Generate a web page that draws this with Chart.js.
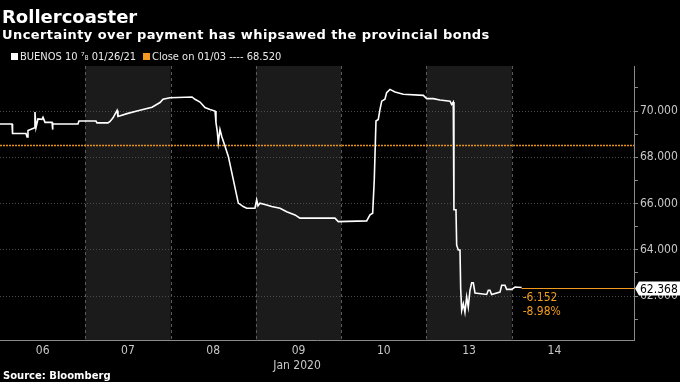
<!DOCTYPE html>
<html lang="en">
<head>
<meta charset="UTF-8">
<title>Rollercoaster</title>
<style>
    html, body { margin: 0; padding: 0; background: #000; }
    .wrap { position: relative; width: 680px; height: 382px; overflow: hidden; background: #000; }
    #chart { position: absolute; left: 0; top: 0; }
    .txt { position: absolute; white-space: nowrap; line-height: 1; }
    .title { left: 2px; top: 6px; font: bold 18px "DejaVu Sans"; color: #fff; }
    .subtitle { left: 2px; top: 27px; font: bold 13px "DejaVu Sans"; letter-spacing: 0.42px; color: #fff; }
    .leg { top: 51px; font-family: "DejaVu Sans Condensed", "DejaVu Sans"; font-stretch: condensed; font-size: 11px; color: #eaeaea; }
    .sq { position: absolute; top: 53px; width: 7px; height: 7px; }
    .axisname { left: 297px; top: 359px; transform: translateX(-50%); font-family: "DejaVu Sans Condensed", "DejaVu Sans"; font-stretch: condensed; font-size: 12px; color: #c8c8c8; }
    .source { left: 3px; top: 370px; font: bold 10px "DejaVu Sans"; color: #fff; }
</style>
</head>
<body>
<div class="wrap">
    <canvas id="chart" width="680" height="382"></canvas>
    <div class="txt title">Rollercoaster</div>
    <div class="txt subtitle">Uncertainty over payment has whipsawed the provincial bonds</div>
    <div class="sq" style="left:11px;background:#fff"></div>
    <div class="txt leg" style="left:20px">BUENOS 10 ⁷₈ 01/26/21</div>
    <div class="sq" style="left:143px;background:#f29b1f"></div>
    <div class="txt leg" style="left:152px">Close on 01/03 ---- 68.520</div>
    <div class="txt axisname">Jan 2020</div>
    <div class="txt source">Source: Bloomberg</div>
</div>
<script src="https://cdn.jsdelivr.net/npm/chart.js"></script>
<script>
    // trading days shown, one slot per day (06 = slot 0)
    const dayLabels = ['06', '07', '08', '09', '10', '13', '14'];
    const tickPos = [0.5, 1.5, 2.5, 3.5, 4.5, 5.5, 6.5];
    const shadedDays = [1, 3, 5];
    const dayEdges = [1, 2, 3, 4, 5, 6];

    // BUENOS 10 7/8 01/26/21 price, x in trading-day slots
    const dayPos = [0.000, 0.141, 0.147, 0.305, 0.317, 0.328, 0.399, 0.410, 0.422, 0.445,
        0.492, 0.504, 0.528, 0.610, 0.615, 0.621, 0.914, 0.926, 1.125, 1.137,
        1.266, 1.290, 1.325, 1.372, 1.383, 1.489, 1.606, 1.676, 1.782, 1.876,
        1.911, 1.993, 2.251, 2.286, 2.345, 2.403, 2.462, 2.521, 2.532, 2.547,
        2.559, 2.579, 2.599, 2.638, 2.677, 2.794, 2.852, 2.892, 2.989, 3.009,
        3.025, 3.048, 3.127, 3.185, 3.283, 3.361, 3.458, 3.517, 3.927, 3.966,
        4.299, 4.338, 4.369, 4.388, 4.408, 4.435, 4.455, 4.475, 4.513, 4.533,
        4.572, 4.631, 4.728, 4.963, 5.002, 5.080, 5.158, 5.276, 5.295, 5.314,
        5.322, 5.346, 5.354, 5.373, 5.393, 5.401, 5.413, 5.432, 5.451, 5.471,
        5.490, 5.510, 5.530, 5.549, 5.569, 5.706, 5.725, 5.744, 5.764, 5.862,
        5.882, 5.920, 5.940, 5.999, 6.038, 6.116];
    const price = [69.44, 69.44, 69.03, 69.03, 68.88, 69.16, 69.27, 69.96, 69.29, 69.66,
        69.64, 69.73, 69.51, 69.51, 69.20, 69.44, 69.44, 69.57, 69.57, 69.49,
        69.49, 69.55, 69.71, 70.03, 69.77, 69.89, 70.00, 70.07, 70.17, 70.37,
        70.51, 70.58, 70.61, 70.51, 70.39, 70.15, 70.07, 70.00, 69.50, 69.13,
        68.63, 69.20, 68.91, 68.48, 68.04, 66.02, 65.87, 65.80, 65.80, 66.16,
        65.90, 66.02, 65.94, 65.87, 65.80, 65.65, 65.51, 65.37, 65.37, 65.22,
        65.25, 65.51, 65.58, 67.03, 69.57, 69.64, 70.07, 70.43, 70.51, 70.80,
        70.94, 70.83, 70.73, 70.68, 70.54, 70.54, 70.48, 70.43, 70.29, 70.39,
        65.73, 65.73, 64.20, 63.99, 63.99, 62.32, 61.38, 61.67, 61.30, 61.96,
        61.52, 62.25, 62.57, 62.57, 62.13, 62.07, 62.25, 62.25, 62.07, 62.17,
        62.47, 62.47, 62.29, 62.29, 62.39, 62.368];

    const closeValue = [68.52];
    const lastValue = [62.368];
    const changeText = ['-6.152', '-8.98%'];

    const orange = '#f29b1f';
    const axisFont = { family: 'DejaVu Sans Condensed', size: 12 };

    // day bands, dashed day dividers and the close line
    const backdrop = {
        id: 'backdrop',
        beforeDraw(chart) {
            const { ctx, chartArea: a, scales: { x } } = chart;
            ctx.save();
            ctx.fillStyle = '#1b1b1b';
            shadedDays.forEach(d => {
                const l = x.getPixelForValue(d), r = x.getPixelForValue(d + 1);
                ctx.fillRect(l, a.top, r - l, a.bottom - a.top);
            });
            ctx.strokeStyle = '#5a5a5a';
            ctx.lineWidth = 1;
            ctx.setLineDash([3, 3]);
            dayEdges.forEach(d => {
                const px = Math.round(x.getPixelForValue(d)) + 0.5;
                ctx.beginPath();
                ctx.moveTo(px, a.top);
                ctx.lineTo(px, a.bottom);
                ctx.stroke();
            });
            ctx.restore();
        },
        beforeDatasetsDraw(chart) {
            const { ctx, chartArea: a, scales: { y } } = chart;
            const py = Math.round(y.getPixelForValue(closeValue[0])) + 0.5;
            ctx.save();
            ctx.strokeStyle = '#e8901a';
            ctx.lineWidth = 1.3;
            ctx.setLineDash([2, 1]);
            ctx.beginPath();
            ctx.moveTo(a.left, py);
            ctx.lineTo(a.right, py);
            ctx.stroke();
            ctx.restore();
        },
        afterDraw(chart) {
            const { ctx, chartArea: a, scales: { x, y } } = chart;
            const py = Math.round(y.getPixelForValue(lastValue[0])) + 0.5;
            const px = x.getPixelForValue(dayPos[dayPos.length - 1]);
            ctx.save();
            ctx.strokeStyle = orange;
            ctx.lineWidth = 1;
            ctx.beginPath();
            ctx.moveTo(px, py);
            ctx.lineTo(a.right, py);
            ctx.stroke();

            // last price tag
            ctx.fillStyle = '#fff';
            ctx.beginPath();
            ctx.moveTo(a.right + 1, py);
            ctx.lineTo(a.right + 5, py - 7);
            ctx.lineTo(680, py - 7);
            ctx.lineTo(680, py + 7);
            ctx.lineTo(a.right + 5, py + 7);
            ctx.closePath();
            ctx.fill();
            ctx.fillStyle = '#000';
            ctx.font = '12px "DejaVu Sans Condensed"';
            ctx.textBaseline = 'middle';
            ctx.fillText(lastValue[0].toFixed(3), a.right + 6, py + 1);

            ctx.fillStyle = orange;
            ctx.textBaseline = 'alphabetic';
            ctx.fillText(changeText[0], px + 1, py + 12);
            ctx.fillText(changeText[1], px + 1, py + 26);
            ctx.restore();
        }
    };

    new Chart(document.getElementById('chart'), {
        type: 'line',
        data: {
            datasets: [{
                label: 'BUENOS 10 7/8 01/26/21',
                data: dayPos.map((d, i) => ({ x: d, y: price[i] })),
                borderColor: '#fff',
                borderWidth: 1.6,
                pointRadius: 0,
                tension: 0
            }]
        },
        options: {
            responsive: false,
            animation: false,
            layout: { padding: { top: 66, left: 0, right: 0, bottom: 0 } },
            plugins: { legend: { display: false }, tooltip: { enabled: false } },
            scales: {
                x: {
                    type: 'linear',
                    min: 0,
                    max: 7.433,
                    afterFit(s) { s.height = 42; },
                    afterBuildTicks(s) { s.ticks = tickPos.map(v => ({ value: v })); },
                    ticks: {
                        autoSkip: false,
                        maxRotation: 0,
                        padding: 4,
                        color: '#c8c8c8',
                        font: axisFont,
                        callback: (v, i) => dayLabels[i]
                    },
                    grid: { display: false, drawTicks: false },
                    border: { display: true, color: '#8a8a8a', width: 1 }
                },
                y: {
                    position: 'right',
                    min: 60.1,
                    max: 71.95,
                    afterFit(s) { s.width = 46; },
                    ticks: {
                        stepSize: 1,
                        includeBounds: false,
                        padding: 2,
                        color: '#c8c8c8',
                        font: axisFont,
                        callback: v => (Math.round(v) % 2 === 0 ? v.toFixed(3) : '')
                    },
                    grid: {
                        color: c => (c.tick && Math.round(c.tick.value) % 2 === 0 ? '#4a4a4a' : 'rgba(0,0,0,0)'),
                        tickColor: '#8a8a8a',
                        tickLength: 4
                    },
                    border: { color: '#8a8a8a', dash: [1, 2] }
                }
            }
        },
        plugins: [backdrop]
    });
</script>
</body>
</html>
